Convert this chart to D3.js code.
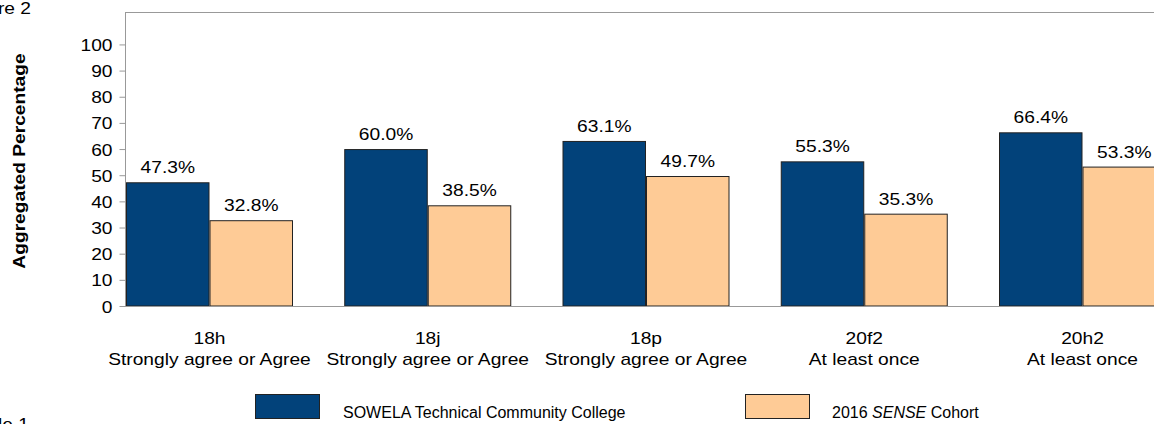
<!DOCTYPE html>
<html>
<head>
<meta charset="utf-8">
<script src="https://cdn.jsdelivr.net/npm/d3@7"></script>
<style>
  html, body { margin: 0; padding: 0; background: #fff; }
  svg { display: block; font-family: "Liberation Sans", Arial, Helvetica, sans-serif; }
</style>
</head>
<body>
<svg id="chart" width="1154" height="424"></svg>
<script>
// ---- data ----
const categories = ["18h", "18j", "18p", "20f2", "20h2"];
const categorySubLabels = ["Strongly agree or Agree", "Strongly agree or Agree", "Strongly agree or Agree", "At least once", "At least once"];
const seriesNames = ["SOWELA Technical Community College", "2016 SENSE Cohort"];
const sowelaValues = [47.3, 60.0, 63.1, 55.3, 66.4];
const cohortValues = [32.8, 38.5, 49.7, 35.3, 53.3];
const yTicks = [0, 10, 20, 30, 40, 50, 60, 70, 80, 90, 100];

// ---- layout ----
const W = 1154, H = 424;
const plotLeft = 126, plotTop = 12, plotBottom = 306;
const bandW = 218.25;
const barW = 83.5;
const colors = ["#02427A", "#FECB96"];
const fontPx = 16;
const sx = 1.2; // horizontal stretch of text

const svg = d3.select("#chart");

const y = d3.scaleLinear().domain([0, 112.4]).range([plotBottom, plotTop]);
const x0 = d3.scaleBand().domain(categories)
  .range([plotLeft, plotLeft + bandW * categories.length]).paddingInner(0).paddingOuter(0);
const x1 = d3.scaleBand().domain([0, 1]).range([0, barW * 2]).padding(0);

function stretchedText(sel, xPos, yPos, anchor) {
  return sel.append("text")
    .attr("transform", `translate(${xPos},${yPos}) scale(${sx},1)`)
    .attr("text-anchor", anchor || "middle");
}

// frame lines
svg.append("line").attr("x1", plotLeft).attr("x2", W).attr("y1", plotTop + 0.5).attr("y2", plotTop + 0.5)
  .attr("stroke", "#999").attr("stroke-width", 1);
svg.append("line").attr("x1", plotLeft - 0.5).attr("x2", plotLeft - 0.5).attr("y1", plotTop).attr("y2", plotBottom + 1)
  .attr("stroke", "#999").attr("stroke-width", 1);

// y axis ticks
const yAxis = d3.axisLeft(y).tickValues(yTicks).tickSize(6).tickPadding(7).tickFormat(d3.format("d"));
const gy = svg.append("g").attr("transform", `translate(${plotLeft - 0.5},0)`).call(yAxis);
gy.select(".domain").remove();
gy.selectAll(".tick line").attr("stroke", "#999");
gy.selectAll(".tick text").each(function(d) {
  const t = d3.select(this);
  t.attr("font-size", fontPx).attr("fill", "#000").attr("font-family", null)
   .attr("x", null).attr("dy", null)
   .attr("text-anchor", "end")
   .attr("dominant-baseline", null)
   .attr("transform", `translate(-13,6) scale(${sx},1)`);
});

// bars
const groups = svg.append("g").selectAll("g").data(categories).join("g")
  .attr("transform", d => `translate(${x0(d)},0)`);

const seriesValues = [sowelaValues, cohortValues];
groups.each(function(cat, i) {
  const g = d3.select(this);
  seriesValues.forEach((vals, s) => {
    const v = vals[i];
    g.append("rect")
      .attr("x", x1(s) + 0.5)
      .attr("y", y(v) + 0.5)
      .attr("width", x1.bandwidth() - 1)
      .attr("height", y(0) - y(v) - 0.5)
      .attr("fill", colors[s])
      .attr("stroke", "#222")
      .attr("stroke-width", 1);
    stretchedText(g, x1(s) + x1.bandwidth() / 2, y(v) - 9)
      .attr("font-size", fontPx).attr("fill", "#000")
      .text(v.toFixed(1) + "%");
  });
});

// bottom axis line
svg.append("line").attr("x1", plotLeft - 6).attr("x2", W).attr("y1", plotBottom + 0.5).attr("y2", plotBottom + 0.5)
  .attr("stroke", "#999").attr("stroke-width", 1);

// category labels
categories.forEach((c, i) => {
  const cx = x0(c) + barW;
  stretchedText(svg, cx, 344).attr("font-size", fontPx).text(c);
  stretchedText(svg, cx, 365).attr("font-size", fontPx).text(categorySubLabels[i]);
});

// y title (stretched along its length)
svg.append("text")
  .attr("transform", `translate(25,161) rotate(-90) scale(${sx},1)`)
  .attr("text-anchor", "middle")
  .attr("font-size", 16).attr("font-weight", "bold")
  .text("Aggregated Percentage");

// clipped figure/table captions
stretchedText(svg, 31, 14, "end").attr("font-size", fontPx).text("Figure 2");
stretchedText(svg, 29, 430, "end").attr("font-size", fontPx).text("Table 1");

// legend
const legendItems = [{x: 255, tx: 343}, {x: 745, tx: 832}];
legendItems.forEach((li, s) => {
  svg.append("rect").attr("x", li.x + 0.5).attr("y", 394.5).attr("width", 64).attr("height", 24)
    .attr("fill", colors[s]).attr("stroke", "#222").attr("stroke-width", 1);
});
svg.append("text").attr("x", legendItems[0].tx).attr("y", 418).attr("font-size", fontPx).text(seriesNames[0]);
const t2 = svg.append("text").attr("x", legendItems[1].tx).attr("y", 418).attr("font-size", fontPx);
t2.append("tspan").text("2016 ");
t2.append("tspan").attr("font-style", "italic").text("SENSE");
t2.append("tspan").text(" Cohort");
</script>
</body>
</html>
